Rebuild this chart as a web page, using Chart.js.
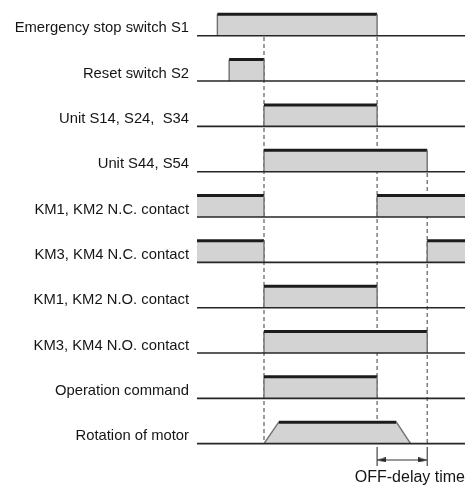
<!DOCTYPE html>
<html>
<head>
<meta charset="utf-8">
<script src="https://cdn.jsdelivr.net/npm/chart.js@4.4.1/dist/chart.umd.min.js"></script>
<style>
  html, body { margin: 0; padding: 0; background: #fff; overflow: hidden; }
  #wrap { width: 465px; height: 486px; }
</style>
</head>
<body>
<div id="wrap"><canvas id="timing"></canvas></div>
<script>
// signal names, top to bottom
const rowLabels = [
    "Emergency stop switch S1",
    "Reset switch S2",
    "Unit S14, S24,  S34",
    "Unit S44, S54",
    "KM1, KM2 N.C. contact",
    "KM3, KM4 N.C. contact",
    "KM1, KM2 N.O. contact",
    "KM3, KM4 N.O. contact",
    "Operation command",
    "Rotation of motor"
];

// [time, level] pairs, time 0..100
const emergencyStop = [[0, 0], [7.6, 0], [7.6, 1], [67.2, 1], [67.2, 0], [100, 0]];
const resetSwitch   = [[0, 0], [12, 0], [12, 1], [25, 1], [25, 0], [100, 0]];
const unitS14       = [[0, 0], [25, 0], [25, 1], [67.2, 1], [67.2, 0], [100, 0]];
const unitS44       = [[0, 0], [25, 0], [25, 1], [85.9, 1], [85.9, 0], [100, 0]];
const km12NC        = [[0, 1], [25, 1], [25, 0], [67.2, 0], [67.2, 1], [100, 1]];
const km34NC        = [[0, 1], [25, 1], [25, 0], [85.9, 0], [85.9, 1], [100, 1]];
const km12NO        = [[0, 0], [25, 0], [25, 1], [67.2, 1], [67.2, 0], [100, 0]];
const km34NO        = [[0, 0], [25, 0], [25, 1], [85.9, 1], [85.9, 0], [100, 0]];
const opCommand     = [[0, 0], [25, 0], [25, 1], [67.2, 1], [67.2, 0], [100, 0]];
const motor         = [[0, 0], [25, 0], [30.5, 1], [74.4, 1], [79.7, 0], [100, 0]];

const signals = [emergencyStop, resetSwitch, unitS14, unitS44, km12NC, km34NC, km12NO, km34NO, opCommand, motor];

// dashed guide lines: time and first row they start under
const guideTimes = [25, 67.2, 85.9];
const guideFromRow = [0, 0, 3];

// OFF-delay interval
const offDelay = [67.2, 85.9];
const offDelayText = "OFF-delay time";

// layout in y units (one unit = one row)
const nRows = rowLabels.length;
const pulseH = 0.474;
const labelLift = 0.161;
const baseOf = i => nRows - 1 - i;

const fillColor = "#d3d3d3";
const topColor = "#1c1c1c";
const edgeColor = "#707070";
const lineColor = "#262626";
const dashColor = "#6a6a6a";
const font = "'Liberation Sans', Arial, sans-serif";

function waveSegment(base) {
    const flat = c => c.p0.parsed.y === c.p1.parsed.y;
    return {
        borderColor: c => flat(c) ? (c.p0.parsed.y === base ? "rgba(0,0,0,0)" : topColor) : edgeColor,
        borderWidth: c => (flat(c) && c.p0.parsed.y !== base) ? 3 : 1.4
    };
}

function arrowHead() {
    const c = document.createElement("canvas");
    c.width = 9; c.height = 5;
    const g = c.getContext("2d");
    g.fillStyle = "#222";
    g.beginPath();
    g.moveTo(9, 2.5);
    g.lineTo(0, 0);
    g.lineTo(0, 5);
    g.closePath();
    g.fill();
    return c;
}

// no label overflow padding, the chart area should fill the canvas
function noPadding(s) {
    s.paddingTop = 0; s.paddingBottom = 0;
    s.paddingLeft = 0; s.paddingRight = 0;
}

const wavePoints = (s, i) => s.map(p => ({ x: p[0], y: baseOf(i) + p[1] * pulseH }));

// higher order = drawn further below
const baseSets = signals.map((s, i) => ({
    order: 0,
    data: [{ x: 0, y: baseOf(i) }, { x: 100, y: baseOf(i) }],
    borderColor: lineColor,
    borderWidth: 1.6,
    pointRadius: 0,
    fill: false
}));

const waveLines = signals.map((s, i) => ({
    order: 1,
    data: wavePoints(s, i),
    borderColor: topColor,
    borderWidth: 1.4,
    pointRadius: 0,
    fill: false,
    segment: waveSegment(baseOf(i))
}));

const waveFills = signals.map((s, i) => ({
    order: 2,
    data: wavePoints(s, i),
    borderWidth: 0,
    borderColor: "rgba(0,0,0,0)",
    backgroundColor: fillColor,
    pointRadius: 0,
    fill: { value: baseOf(i) }
}));

const tickTop = -0.073, tickBottom = -0.492, arrowY = -0.36;
const headInset = 1.68;

const delaySets = [
    ...offDelay.map(t => ({
        order: 3,
        data: [{ x: t, y: tickTop }, { x: t, y: tickBottom }],
        borderColor: "#333",
        borderWidth: 1.1,
        pointRadius: 0,
        fill: false
    })),
    {
        order: 3,
        data: [{ x: offDelay[0], y: arrowY }, { x: offDelay[1], y: arrowY }],
        borderColor: "#333",
        borderWidth: 1.1,
        pointRadius: 0,
        fill: false
    },
    {
        order: 3,
        data: [{ x: offDelay[0] + headInset, y: arrowY }, { x: offDelay[1] - headInset, y: arrowY }],
        showLine: false,
        pointStyle: arrowHead(),
        pointRadius: 5,
        pointRotation: [180, 0],
        fill: false
    }
];

const guideSets = guideTimes.map((t, k) => ({
    order: 4,
    data: [{ x: t, y: baseOf(guideFromRow[k]) - 0.03 }, { x: t, y: 0 }],
    borderColor: dashColor,
    borderWidth: 1.3,
    borderDash: [4, 3],
    pointRadius: 0,
    fill: false
}));

const ctx = document.getElementById("timing").getContext("2d");
new Chart(ctx, {
    type: "line",
    data: { datasets: [...baseSets, ...waveLines, ...waveFills, ...delaySets, ...guideSets] },
    options: {
        responsive: true,
        maintainAspectRatio: false,
        animation: false,
        layout: { padding: 0, autoPadding: false },
        plugins: { legend: { display: false }, tooltip: { enabled: false } },
        elements: { line: { tension: 0 } },
        scales: {
            x: {
                type: "linear",
                min: 0,
                max: 100,
                grid: { display: false, drawTicks: false },
                border: { display: false },
                ticks: { display: false },
                title: {
                    display: true,
                    text: offDelayText,
                    align: "end",
                    color: "#151515",
                    padding: 0,
                    font: { family: font, size: 16, lineHeight: 1.1 }
                },
                afterFit: s => { s.height = 18; noPadding(s); }
            },
            y: {
                type: "linear",
                min: -0.5367,
                max: 9.7876,
                grid: { display: false, drawTicks: false },
                border: { display: false },
                afterBuildTicks: s => {
                    s.ticks = rowLabels.map((l, i) => ({ value: baseOf(i) + labelLift }));
                },
                afterFit: s => { s.width = 197; noPadding(s); },
                ticks: {
                    autoSkip: false,
                    padding: 8,
                    color: "#151515",
                    font: { family: font, size: 14.8 },
                    callback: (v, i) => rowLabels[i]
                }
            }
        }
    }
});
</script>
</body>
</html>
